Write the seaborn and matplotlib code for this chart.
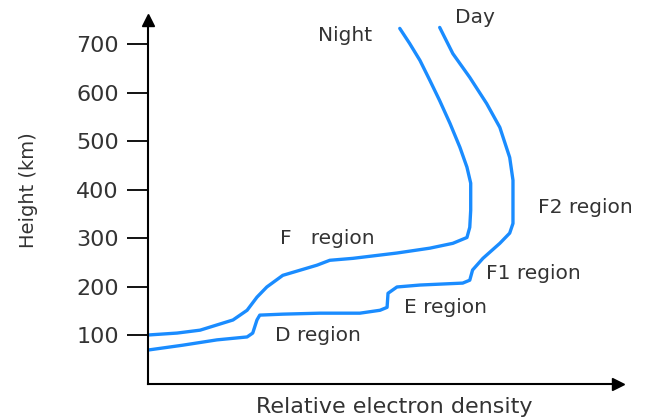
import numpy as np
import matplotlib.pyplot as plt
import seaborn as sns
import pandas as pd

# relative electron density (arbitrary units, 0-100) vs height (km)
night_density = [0, 6.2, 11.1, 18.1, 21.1, 23.2, 25.3, 28.7, 36.0, 38.7, 43.6, 53.0,
                 60.0, 64.9, 67.9, 68.5, 68.7, 68.7, 67.9, 66.4, 64.3, 62.1, 60.0,
                 57.9, 55.7, 53.6]
night_height = [101, 105, 111, 132, 152, 179, 200, 224, 245, 255, 259, 270,
                280, 290, 302, 323, 358, 414, 447, 488, 537, 584, 626,
                667, 702, 733]

day_density = [0, 7.4, 14.7, 21.1, 22.3, 23.2, 23.8, 28.7, 36.6, 45.1, 49.4, 50.9,
               51.1, 53.0, 57.9, 67.0, 68.5, 69.1, 71.3, 74.9, 77.0, 77.7, 77.7,
               77.7, 77.0, 74.9, 72.1, 68.5, 64.9, 62.1]
day_height = [70, 80, 91, 97, 105, 132, 142, 144, 146, 146, 152, 158,
              187, 200, 204, 208, 214, 235, 259, 290, 311, 331, 379,
              420, 467, 529, 578, 632, 681, 735]

ticks = [100, 200, 300, 400, 500, 600, 700]

night = pd.DataFrame({'density': night_density, 'height': night_height})
day = pd.DataFrame({'density': day_density, 'height': day_height})

sns.set_style('white')
plt.rcParams['font.family'] = ['DejaVu Sans']
txt = '#333333'

fig = plt.figure(figsize=(6.53, 4.2), dpi=100)
ax = fig.add_axes([0.2266, 0.0857, 0.7194, 0.8663])

blue = '#1a8cff'
for df in [night, day]:
    sns.lineplot(data=df, x='density', y='height', sort=False, estimator=None,
                 color=blue, lw=2.4, ax=ax)

ax.set_xlim(0, 100)
ax.set_ylim(0, 750)
ax.set_yticks(ticks)
ax.set_xticks([])
ax.tick_params(axis='y', direction='out', length=15, width=1.3, color='black',
               labelsize=16, labelcolor=txt, pad=6, left=True)
for s in ['top', 'right']:
    ax.spines[s].set_visible(False)
for s in ['left', 'bottom']:
    ax.spines[s].set_color('black')
    ax.spines[s].set_linewidth(1.5)

# arrow heads on axes
ax.plot(0, 1, marker='^', color='black', ms=8, transform=ax.transAxes, clip_on=False)
ax.plot(1, 0, marker='>', color='black', ms=8, transform=ax.transAxes, clip_on=False)

ax.set_xlabel('Relative electron density', fontsize=16, color=txt)
ax.xaxis.set_label_coords(0.525, -0.035)
ax.set_ylabel('Height (km)', fontsize=14, color=txt)
ax.yaxis.set_label_coords(-0.235, 0.533)

kw = dict(fontsize=14.5, color=txt, va='center')
ax.text(42, 718, 'Night', ha='center', **kw)
ax.text(69.5, 755, 'Day', ha='center', **kw)
ax.text(28, 300, 'F   region', ha='left', **kw)
ax.text(83, 364, 'F2 region', ha='left', **kw)
ax.text(72, 228, 'F1 region', ha='left', **kw)
ax.text(54.5, 158, 'E region', ha='left', **kw)
ax.text(27, 101, 'D region', ha='left', **kw)

fig.savefig('out.png', dpi=100)
